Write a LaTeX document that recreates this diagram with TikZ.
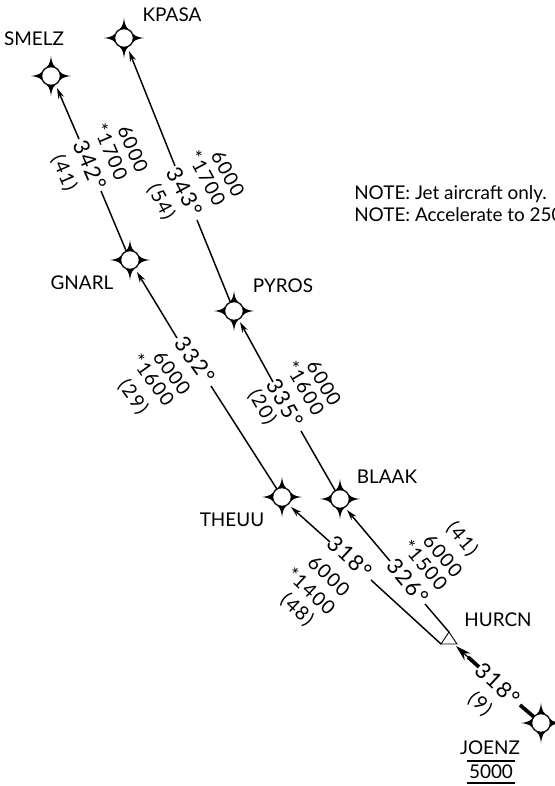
\documentclass[tikz,border=0pt]{standalone}
\usepackage{fontspec}
\setmainfont{Lato}
\newfontfamily\legfont[LetterSpace=7]{Lato}
\usetikzlibrary{arrows.meta}
\tikzset{
  route/.style={line width=1.1pt,-{Stealth[length=8pt,width=4.6pt]}},
  routeplain/.style={line width=1.1pt},
  routethick/.style={line width=2.8pt},
  lab/.style={font=\fontsize{14.2pt}{16pt}\selectfont,inner sep=0pt,text=black},
  sm/.style={font=\legfont\fontsize{14.5pt}{16pt}\selectfont,inner sep=0pt,text=black},
  crs/.style={font=\legfont\fontsize{16.5pt}{18pt}\selectfont,inner sep=0pt,text=black},
  fixp/.style={circle,minimum size=13pt,inner sep=0pt,fill=white,draw=none}
}
\newcommand{\fixmark}[3]{%
  \fill[black] (#2,#3-20) .. controls (#2+1,#3-12) and (#2+2.5,#3-9.5) .. (#2+7.2,#3-7.2)
    .. controls (#2+9.5,#3-2.5) and (#2+12,#3-1) .. (#2+20,#3)
    .. controls (#2+12,#3+1) and (#2+9.5,#3+2.5) .. (#2+7.2,#3+7.2)
    .. controls (#2+2.5,#3+9.5) and (#2+1,#3+12) .. (#2,#3+20)
    .. controls (#2-1,#3+12) and (#2-2.5,#3+9.5) .. (#2-7.2,#3+7.2)
    .. controls (#2-9.5,#3+2.5) and (#2-12,#3+1) .. (#2-20,#3)
    .. controls (#2-12,#3-1) and (#2-9.5,#3-2.5) .. (#2-7.2,#3-7.2)
    .. controls (#2-2.5,#3-9.5) and (#2-1,#3-12) .. (#2,#3-20) -- cycle;
  \node[fixp] (#1) at (#2,#3) {};
}
\begin{document}
\begin{tikzpicture}[x=0.75pt,y=-0.75pt]
\useasboundingbox (0,0) rectangle (555,786);
\clip (0,0) rectangle (555,786);
% free ends of the broken connectors
\coordinate (a1) at (175,166);
\coordinate (a2) at (197,220);
\coordinate (b1) at (79,139);
\coordinate (b2) at (101,191);
\coordinate (c1) at (177,338);
\coordinate (c2) at (211,386);
\coordinate (d1) at (273,382);
\coordinate (d2) at (301,431);
\coordinate (e1) at (330,542);
\coordinate (e2) at (371,580);
\coordinate (f1) at (390,561);
\coordinate (f2) at (425,604);
\coordinate (g1) at (479,667);
\coordinate (g2) at (520,705);
% connectors (under the fixes)
\draw[routeplain] (a2) -- (234,311);
\draw[routeplain] (b2) -- (130,260);
\draw[routeplain] (c2) -- (282,497);
\draw[routeplain] (d2) -- (340,499);
\draw[routethick] (g2) -- (541,723);
\fixmark{kpasa}{124}{38}
\fixmark{smelz}{51}{76}
\fixmark{gnarl}{130}{260}
\fixmark{pyros}{234}{311}
\fixmark{blaak}{340}{499}
\fixmark{theuu}{282}{497}
\fixmark{joenz}{541}{723}
% HURCN triangle
\coordinate (hl) at (441,644);
\coordinate (hr) at (457,644);
\coordinate (ht) at (449,632);
\draw[line width=0.7pt,line join=miter] (hl) -- (hr) -- (ht) -- cycle;
\draw[route] (a1) -- (129,51);
\draw[route] (b1) -- (57,88);
\draw[route] (c1) -- (137,272);
\draw[route] (d1) -- (240,322);
\draw[route] (e1) -- (291,507);
\draw[routeplain] (hl) -- (e2);
\draw[route] (f1) -- (347,510);
\draw[routeplain] (ht) -- (f2);
\draw[routethick] (g1) -- (468,657);
\draw[line width=0.9pt,-{Stealth[length=12pt,width=7pt]}] (470,659) -- (456,646);
% names
\node[lab] (n1) at (34,39) {SMELZ};
\node[lab] (n2) at (172,15) {KPASA};
\node[lab] (n3) at (82,283) {GNARL};
\node[lab] (n4) at (283,286) {PYROS};
\node[lab] (n5) at (387,477) {BLAAK};
\node[lab] (n6) at (232,520) {THEUU};
\node[lab] (n7) at (498,620) {HURCN};
\node[lab] (n8) at (490,748) {JOENZ};
\node[lab] (n9) at (491,772) {5000};
\draw[line width=0.8pt] (467,761) -- (515,761);
\draw[line width=0.8pt] (467,783) -- (515,783);
% notes
\node[lab,anchor=west] (t1) at (354,194) {NOTE: Jet aircraft only.};
\node[lab,anchor=west] (t2) at (354,215) {NOTE: Accelerate to 250};
% leg labels
\node[crs,rotate=-67] (l1) at (90,165) {342°};
\node[sm,rotate=-67] (l2) at (111,152) {*1700};
\node[sm,rotate=-67] (l3) at (133,149) {6000};
\node[sm,rotate=-67] (l4) at (64,173) {(41)};
\node[crs,rotate=-62] (l5) at (185,192) {343°};
\node[sm,rotate=-62] (l6) at (207,178) {*1700};
\node[sm,rotate=-62] (l7) at (228,174) {6000};
\node[sm,rotate=-62] (l8) at (161,202) {(54)};
\node[crs,rotate=-54] (l9) at (195,360) {332°};
\node[sm,rotate=-54] (l10) at (172,373) {6000};
\node[sm,rotate=-54] (l11) at (153,380) {*1600};
\node[sm,rotate=-54] (l12) at (133,397) {(29)};
\node[crs,rotate=-60] (l13) at (285,403) {335°};
\node[sm,rotate=-60] (l14) at (305,388) {*1600};
\node[sm,rotate=-60] (l15) at (324,383) {6000};
\node[sm,rotate=-60] (l16) at (262,407) {(20)};
\node[crs,rotate=-43] (l17) at (350,557) {318°};
\node[sm,rotate=-43] (l18) at (329,576) {6000};
\node[sm,rotate=-43] (l19) at (311,591) {*1400};
\node[sm,rotate=-43] (l20) at (297,610) {(48)};
\node[crs,rotate=-50] (l21) at (408,581) {326°};
\node[sm,rotate=-50] (l22) at (425,565) {*1500};
\node[sm,rotate=-50] (l23) at (443,556) {6000};
\node[sm,rotate=-50] (l24) at (462,539) {(41)};
\node[crs,rotate=-43] (l25) at (498,684) {318°};
\node[sm,rotate=-43] (l26) at (480,704) {(9)};
\end{tikzpicture}
\end{document}
